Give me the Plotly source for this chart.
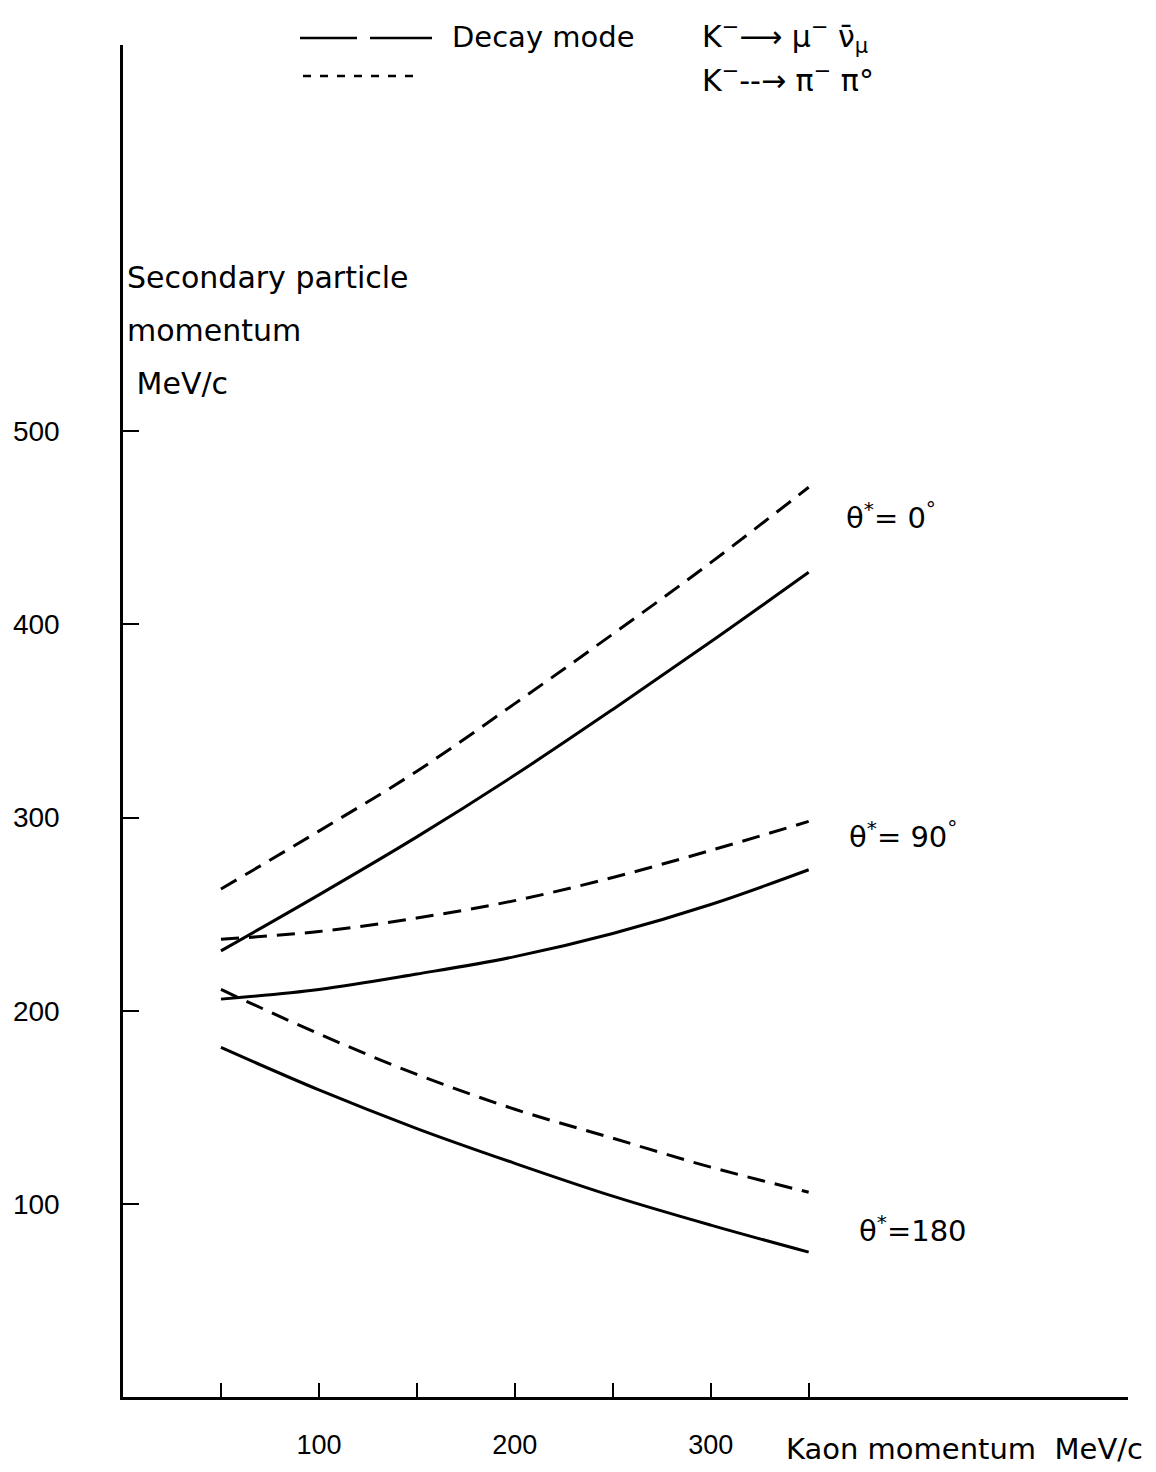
import plotly.graph_objects as go

# Kaon momentum (MeV/c)
kaon_p = [50, 100, 150, 200, 250, 300, 350]

# Secondary particle momentum (MeV/c)
dashed_0 = [263, 293, 324, 359, 395, 432, 471]
solid_0 = [231, 260, 290, 322, 356, 391, 427]
dashed_90 = [237, 241, 248, 257, 269, 283, 298]
solid_90 = [206, 211, 219, 228, 240, 255, 273]
dashed_180 = [211, 188, 167, 149, 134, 119, 106]
solid_180 = [181, 159, 139, 121, 104, 89, 75]

x_tickvals = [100, 200, 300]
x_ticktext = ["100", "200", "300"]
x_minor_ticks = [50, 150, 250, 350]
y_tickvals = [100, 200, 300, 400, 500]
y_ticktext = ["100", "200", "300", "400", "500"]

FONT = "Liberation Sans"
TFONT = "DejaVu Sans"
fig = go.Figure()

for ys, dash in [(dashed_0, "18px,10px"), (solid_0, "solid"),
                 (dashed_90, "18px,10px"), (solid_90, "solid"),
                 (dashed_180, "18px,10px"), (solid_180, "solid")]:
    fig.add_trace(go.Scatter(x=kaon_p, y=ys, mode="lines", line_shape="spline",
                             line=dict(color="black", width=3, dash=dash),
                             showlegend=False, hoverinfo="skip"))

fig.update_layout(
    width=1156, height=1472,
    margin=dict(l=123, r=28, t=45, b=71),
    paper_bgcolor="white", plot_bgcolor="white",
    font=dict(family=FONT, color="black", size=26),
    xaxis=dict(range=[0, 513], showgrid=False, zeroline=False, showline=True,
               linecolor="black", linewidth=2.5, ticks="inside", ticklen=14,
               tickwidth=2, tickcolor="black", tickvals=x_tickvals,
               ticktext=x_ticktext, tickfont=dict(size=27, family=FONT),
               ticklabelstandoff=22,
               minor=dict(tickvals=x_minor_ticks, ticks="inside", ticklen=14,
                          tickwidth=2, tickcolor="black", showgrid=False)),
    yaxis=dict(range=[0, 700], showgrid=False, zeroline=False, showline=True,
               linecolor="black", linewidth=2.5, ticks="inside", ticklen=16,
               tickwidth=2, tickcolor="black", tickvals=y_tickvals,
               ticktext=y_ticktext, tickfont=dict(size=28, family=FONT),
               ticklabelstandoff=55),
)

# Axis titles
for i, txt in enumerate(["Secondary particle", "momentum", " MeV/c"]):
    fig.add_annotation(text=txt, xref="paper", yref="paper", x=0.002,
                       y=(1401 - (278 + 53 * i)) / 1356, xanchor="left",
                       yanchor="middle", showarrow=False,
                       font=dict(size=30, family=TFONT))
fig.add_annotation(text="Kaon momentum  MeV/c", xref="paper", yref="paper",
                   x=1.017, y=(1401 - 1453) / 1356, xanchor="right",
                   yanchor="middle", showarrow=False,
                   font=dict(size=29, family=TFONT))

# Curve labels
for xv, yv, txt in [(392, 456, "θ<sup>*</sup>= 0<sup>°</sup>"),
                    (398, 291, "θ<sup>*</sup>= 90<sup>°</sup>"),
                    (403, 87, "θ<sup>*</sup>=180")]:
    fig.add_annotation(text=txt, x=xv, y=yv, xref="x", yref="y",
                       showarrow=False, font=dict(size=29, family=TFONT))

# Legend (drawn manually)
def py(p):
    return (1401 - p) / 1356

def px(p):
    return (p - 123) / 1005

fig.add_shape(type="line", xref="paper", yref="paper", x0=px(300), x1=px(357),
              y0=py(38), y1=py(38), line=dict(color="black", width=2.5))
fig.add_shape(type="line", xref="paper", yref="paper", x0=px(370), x1=px(432),
              y0=py(38), y1=py(38), line=dict(color="black", width=2.5))
fig.add_shape(type="line", xref="paper", yref="paper", x0=px(303), x1=px(420),
              y0=py(76), y1=py(76), line=dict(color="black", width=2.5, dash="8px,9px"))
fig.add_annotation(text="Decay mode", xref="paper", yref="paper", x=px(450),
                   y=py(37), xanchor="left", yanchor="middle", showarrow=False,
                   font=dict(size=29, family=TFONT))
fig.add_annotation(text="K<sup>−</sup>⟶ μ<sup>−</sup> ν̄<sub>μ</sub>", xref="paper", yref="paper",
                   x=px(700), y=py(36), xanchor="left", yanchor="middle",
                   showarrow=False, font=dict(size=30, family=TFONT))
fig.add_annotation(text="K<sup>−</sup>--→ π<sup>−</sup> π°", xref="paper", yref="paper",
                   x=px(700), y=py(79), xanchor="left", yanchor="middle",
                   showarrow=False, font=dict(size=30, family=TFONT))

fig.write_html("out.html")
